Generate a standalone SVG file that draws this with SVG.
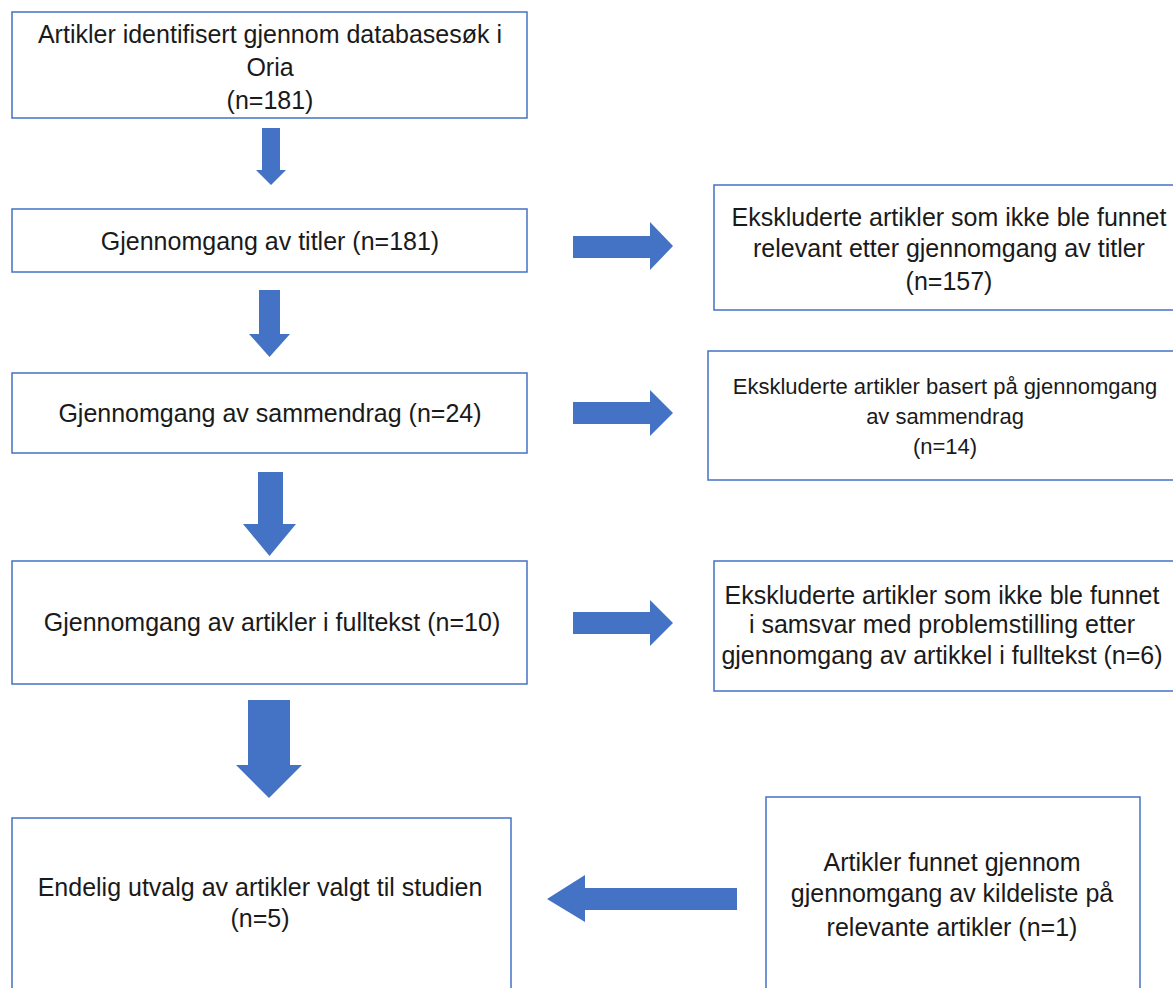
<svg xmlns="http://www.w3.org/2000/svg" width="1173" height="988" viewBox="0 0 1173 988">
<style>
.box{fill:#fff;stroke:#4472C4;stroke-width:1.5}
.arr{fill:#4472C4}
text{font-family:"Liberation Sans",Arial,sans-serif;font-size:25px;fill:#1a1a1a;text-anchor:middle}
.sm{font-size:22px}
</style>
<rect width="1173" height="988" fill="#fff"/>
<g id="connectors">
<polygon class="arr" points="262,128 280,128 280,170 286,170 271,185 256,170 262,170"/>
<polygon class="arr" points="259,290 280,290 280,334 290,334 269.5,357 249,334 259,334"/>
<polygon class="arr" points="258,472 283,472 283,524 296,524 269.5,556 243,524 258,524"/>
<polygon class="arr" points="248,700 290,700 290,765 302,765 269,798 236,765 248,765"/>
<polygon class="arr" points="573,236 650,236 650,222 673,246 650,270 650,258 573,258"/>
<polygon class="arr" points="573,402 650,402 650,390 673,413 650,436 650,424 573,424"/>
<polygon class="arr" points="573,612 650,612 650,600 673,623 650,646 650,634 573,634"/>
<polygon class="arr" points="737,888 585,888 585,875 547,899 585,922 585,910 737,910"/>
</g>
<g id="n1"><rect class="box" x="12" y="12" width="515" height="106"/>
<text x="270" y="43">Artikler identifisert gjennom databasesøk i</text>
<text x="270" y="76">Oria</text>
<text x="270" y="109">(n=181)</text></g>
<g id="n2"><rect class="box" x="12" y="209" width="515" height="63"/>
<text x="270" y="250">Gjennomgang av titler (n=181)</text></g>
<g id="n3"><rect class="box" x="12" y="373" width="515" height="80"/>
<text x="270" y="422">Gjennomgang av sammendrag (n=24)</text></g>
<g id="n4"><rect class="box" x="12" y="561" width="515" height="123"/>
<text x="272" y="631">Gjennomgang av artikler i fulltekst (n=10)</text></g>
<g id="n5"><rect class="box" x="12" y="818" width="499" height="180"/>
<text x="260" y="896">Endelig utvalg av artikler valgt til studien</text>
<text x="260" y="927">(n=5)</text></g>
<g id="e1"><rect class="box" x="714" y="185" width="470" height="125"/>
<text x="949" y="226">Ekskluderte artikler som ikke ble funnet</text>
<text x="949" y="257">relevant etter gjennomgang av titler</text>
<text x="949" y="290">(n=157)</text></g>
<g id="e2"><rect class="box" x="708" y="351" width="476" height="129"/>
<text class="sm" x="945" y="394">Ekskluderte artikler basert på gjennomgang</text>
<text class="sm" x="945" y="424">av sammendrag</text>
<text class="sm" x="945" y="454">(n=14)</text></g>
<g id="e3"><rect class="box" x="714" y="561" width="470" height="130"/>
<text x="942" y="604">Ekskluderte artikler som ikke ble funnet</text>
<text x="942" y="633">i samsvar med problemstilling etter</text>
<text x="942" y="664">gjennomgang av artikkel i fulltekst (n=6)</text></g>
<g id="e4"><rect class="box" x="766" y="797" width="374" height="200"/>
<text x="952" y="871">Artikler funnet gjennom</text>
<text x="952" y="902">gjennomgang av kildeliste på</text>
<text x="952" y="936">relevante artikler (n=1)</text></g>
</svg>
